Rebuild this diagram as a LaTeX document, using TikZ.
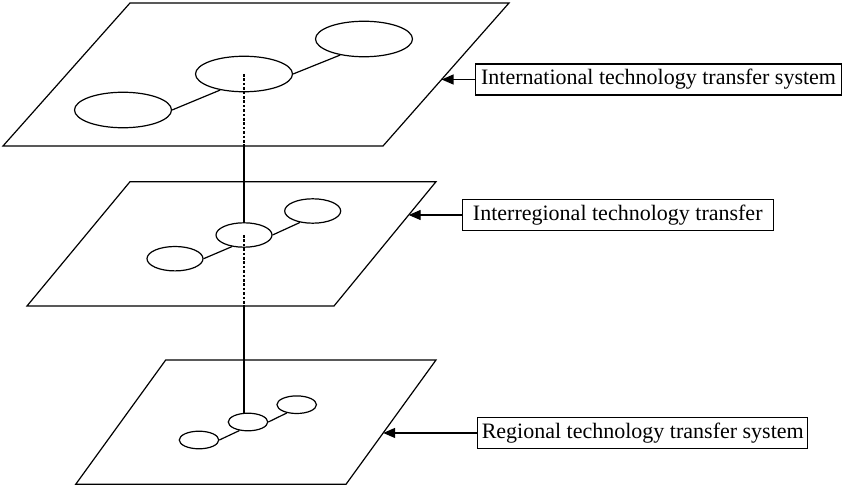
\documentclass[tikz,border=0pt]{standalone}
\usepackage{fontspec}
\setmainfont{Liberation Serif}
\usetikzlibrary{shapes.geometric,arrows.meta,calc}
\begin{document}
\begin{tikzpicture}[x=1pt,y=-1pt,line width=1.2pt,
  plane/.style={draw,line join=miter},
  hubA/.style={draw,ellipse,inner sep=0pt,minimum width=97pt,minimum height=35.5pt},
  hubB/.style={draw,ellipse,inner sep=0pt,minimum width=56pt,minimum height=24.4pt},
  hubC/.style={draw,ellipse,inner sep=0pt,minimum width=39.5pt,minimum height=17.6pt},
  link/.style={draw},
  hidden/.style={draw,dash pattern=on 2.6pt off 1.8pt},
  tag/.style={draw,anchor=west,font=\fontsize{22}{24}\selectfont,inner xsep=3pt,minimum height=31pt},
  pointer/.style={-{Triangle[length=12pt,width=10pt]}}]
\useasboundingbox (0,0) rectangle (844,489);

% planes
\coordinate (p1tl) at (130,3);   \coordinate (p1tr) at (509,3);
\coordinate (p1br) at (383,146); \coordinate (p1bl) at (3,146);
\coordinate (p2tl) at (130,181.7); \coordinate (p2tr) at (436,181.7);
\coordinate (p2br) at (334,306);   \coordinate (p2bl) at (27,306);
\coordinate (p3tl) at (165.7,360); \coordinate (p3tr) at (436,360);
\coordinate (p3br) at (346,484.3); \coordinate (p3bl) at (75.7,484.3);
\draw[plane] (p1tl) -- (p1tr) -- (p1br) -- (p1bl) -- cycle;
\draw[plane] (p2tl) -- (p2tr) -- (p2br) -- (p2bl) -- cycle;
\draw[plane] (p3tl) -- (p3tr) -- (p3br) -- (p3bl) -- cycle;

% nodes of each plane
\node[hubA] (l1) at (123,110) {};
\node[hubA] (m1) at (244,74) {};
\node[hubA] (r1) at (364,39) {};
\node[hubB] (l2) at (175,258.7) {};
\node[hubB] (m2) at (244,235) {};
\node[hubB] (r2) at (312.7,211) {};
\node[hubC] (l3) at (199,440) {};
\node[hubC] (m3) at (248,422) {};
\node[hubC] (r3) at (296.7,404.7) {};

\draw[link] (l1.east) -- (m1.214);
\draw[link] (m1.east) -- (r1.214);
\draw[link] (l2.east) -- (m2.224);
\draw[link] (m2.east) -- (r2.222);
\draw[link] (l3.east) -- (m3.225);
\draw[link] (m3.east) -- (r3.220);

% vertical connection between the levels
\coordinate (c1) at (244,146);
\coordinate (c2) at (244,306);
\draw[hidden] (m1.center) -- (c1);
\draw[link] (c1) -- (m2.north);
\draw[hidden] (m2.center) -- (c2);
\draw[link] (c2) -- (c2 |- m3.north);

% labels with arrows
\coordinate (t1) at ($(p1br)!0.465!(p1tr)$);
\coordinate (t2) at ($(p2br)!0.732!(p2tr)$);
\coordinate (t3) at ($(p3br)!0.413!(p3tr)$);
\node[tag,minimum width=366pt] (lab1) at ([xshift=33.4pt]t1) {International technology transfer system};
\node[tag,minimum width=311pt] (lab2) at ([xshift=53pt]t2) {Interregional technology transfer};
\node[tag,minimum width=330pt] (lab3) at ([xshift=94pt]t3) {Regional technology transfer system};
\draw[pointer] (lab1.west) -- (t1);
\draw[pointer] (lab2.west) -- (t2);
\draw[pointer] (lab3.west) -- (t3);
\end{tikzpicture}
\end{document}
